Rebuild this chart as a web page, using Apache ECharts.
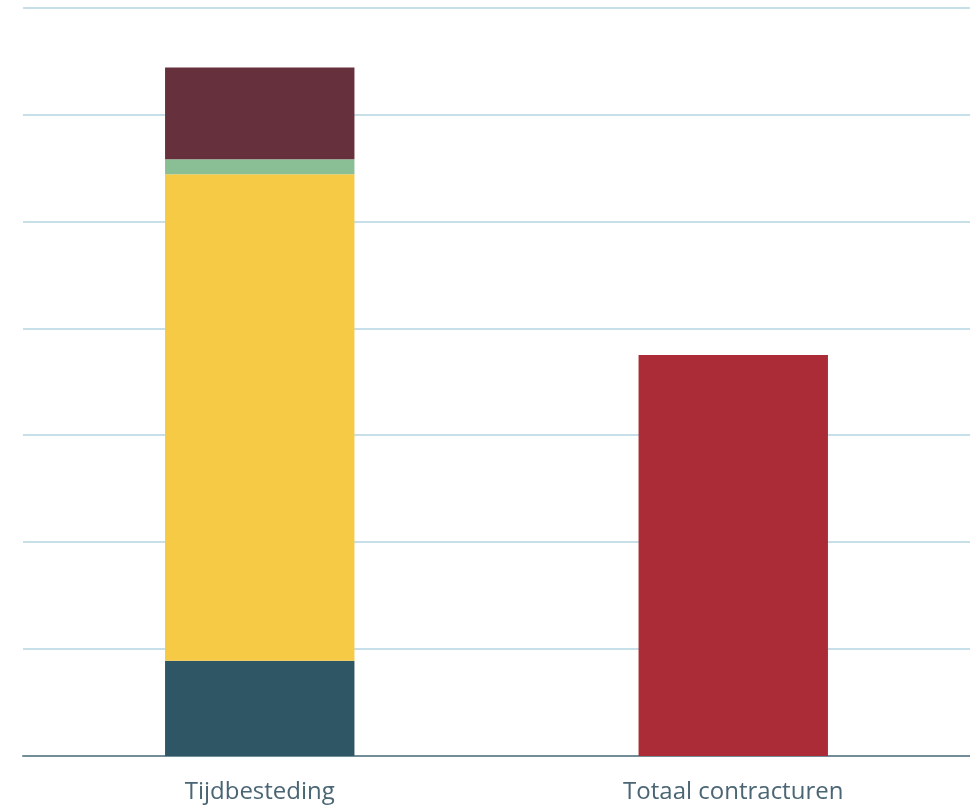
<!DOCTYPE html>
<html>
<head>
<meta charset="utf-8">
<script src="https://cdn.jsdelivr.net/npm/echarts@6/dist/echarts.min.js"></script>
<style>html,body{margin:0;padding:0;background:#fff;}#c{width:970px;height:805px;}</style>
</head>
<body>
<div id="c"></div>
<script>
const categories = ['Tijdbesteding', 'Totaal contracturen'];
const seriesTeal = [8.9, null];
const seriesYellow = [45.5, null];
const seriesGreen = [1.4, null];
const seriesMaroon = [8.6, null];
const seriesRed = [null, 37.5];

const chart = echarts.init(document.getElementById('c'));
const mk = (data, color) => ({
  type: 'bar', stack: 'a', data: data, barWidth: '40%',
  itemStyle: { color: color }, emphasis: { disabled: true }
});
chart.setOption({
  animation: false,
  grid: { left: 23, right: 0, top: 7.5, bottom: 49, containLabel: false },
  xAxis: {
    type: 'category', data: categories,
    axisLine: { show: true, lineStyle: { color: '#728d97', width: 2 } },
    axisTick: { show: false },
    axisLabel: { color: '#4a6574', fontSize: 24, fontFamily: 'Open Sans', margin: 24 }
  },
  yAxis: {
    type: 'value', min: 0, max: 70, interval: 10,
    axisLabel: { show: false }, axisLine: { show: false }, axisTick: { show: false },
    splitLine: { lineStyle: { color: '#b3d5e1', width: 1.5 } }
  },
  series: [
    mk(seriesTeal, '#2f5664'),
    mk(seriesYellow, '#f6ca45'),
    mk(seriesGreen, '#8abf96'),
    mk(seriesMaroon, '#67303d'),
    mk(seriesRed, '#ab2c36')
  ]
});
</script>
</body>
</html>
